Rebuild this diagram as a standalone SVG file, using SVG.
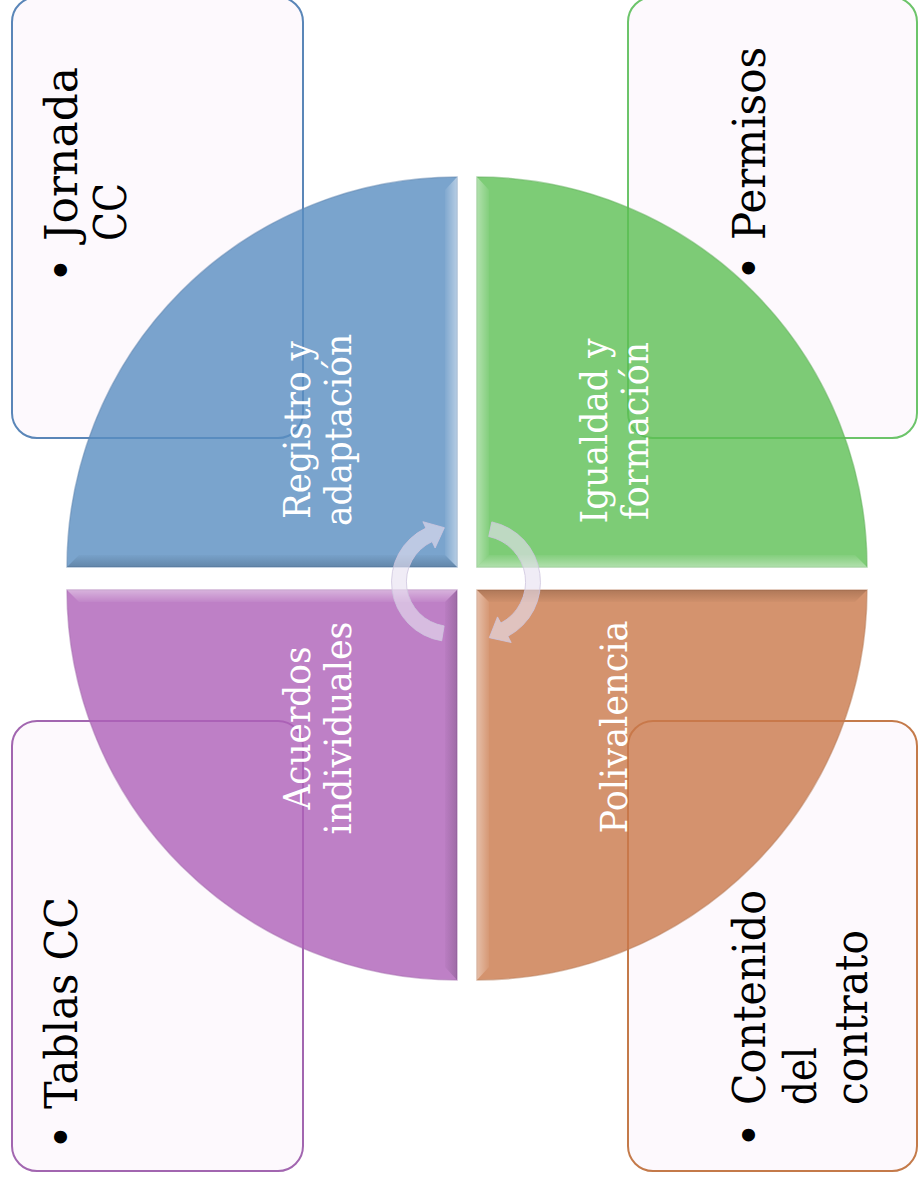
<svg xmlns="http://www.w3.org/2000/svg" width="919" height="1186" viewBox="0 0 919 1186">
<style>
  .box { fill: #FDF9FD; stroke-width: 2; }
  .big { font-family: "DejaVu Serif", "Liberation Serif", serif; font-size: 44px; fill: #000000; }
  .bul { font-family: "DejaVu Serif", "Liberation Serif", serif; font-size: 44px; fill: #000000; text-anchor: middle; }
  .lbl { font-family: "DejaVu Serif", "Liberation Serif", serif; font-size: 38px; fill: #FFFFFF; text-anchor: middle; }
  .quad { fill-opacity: 0.8; stroke-width: 1.5; stroke-opacity: 0.5; }
  .arrow { fill: #E6E0F1; fill-opacity: 0.62; stroke: #CEC6DE; stroke-width: 1; stroke-opacity: 0.8; }
</style>
<defs>
  <linearGradient id="wR" x1="1" y1="0" x2="0" y2="0"><stop offset="0" stop-color="#FFFFFF" stop-opacity="0.45"/><stop offset="1" stop-color="#FFFFFF" stop-opacity="0.05"/></linearGradient>
  <linearGradient id="wL" x1="0" y1="0" x2="1" y2="0"><stop offset="0" stop-color="#FFFFFF" stop-opacity="0.4"/><stop offset="1" stop-color="#FFFFFF" stop-opacity="0.05"/></linearGradient>
  <linearGradient id="wB" x1="0" y1="1" x2="0" y2="0"><stop offset="0" stop-color="#FFFFFF" stop-opacity="0.4"/><stop offset="1" stop-color="#FFFFFF" stop-opacity="0.05"/></linearGradient>
  <linearGradient id="wT" x1="0" y1="0" x2="0" y2="1"><stop offset="0" stop-color="#FFFFFF" stop-opacity="0.4"/><stop offset="1" stop-color="#FFFFFF" stop-opacity="0.05"/></linearGradient>
  <linearGradient id="kB" x1="0" y1="1" x2="0" y2="0"><stop offset="0" stop-color="#203040" stop-opacity="0.25"/><stop offset="1" stop-color="#203040" stop-opacity="0.03"/></linearGradient>
  <linearGradient id="kR" x1="1" y1="0" x2="0" y2="0"><stop offset="0" stop-color="#302038" stop-opacity="0.22"/><stop offset="1" stop-color="#302038" stop-opacity="0.03"/></linearGradient>
  <linearGradient id="kT" x1="0" y1="0" x2="0" y2="1"><stop offset="0" stop-color="#402818" stop-opacity="0.25"/><stop offset="1" stop-color="#402818" stop-opacity="0.03"/></linearGradient>
</defs>
<rect x="0" y="0" width="919" height="1186" fill="#FFFFFF"/>

<!-- text boxes -->
<g id="box-jornada">
  <rect class="box" x="12" y="-3" width="291" height="441" rx="25" stroke="#5A86B8"/>
  <text class="bul" x="77" y="270" transform="rotate(-90 77 270)">•</text>
  <text class="big" x="77" y="241" transform="rotate(-90 77 241)" textLength="174" lengthAdjust="spacingAndGlyphs">Jornada</text>
  <text class="big" x="126" y="241" transform="rotate(-90 126 241)" textLength="58" lengthAdjust="spacingAndGlyphs">CC</text>
</g>
<g id="box-permisos">
  <rect class="box" x="628" y="-3" width="289" height="441" rx="25" stroke="#6CC46A"/>
  <text class="bul" x="765" y="268" transform="rotate(-90 765 268)">•</text>
  <text class="big" x="765" y="240" transform="rotate(-90 765 240)" textLength="193" lengthAdjust="spacingAndGlyphs">Permisos</text>
</g>
<g id="box-tablas">
  <rect class="box" x="12" y="721" width="291" height="450" rx="25" stroke="#A266B0"/>
  <text class="bul" x="77" y="1137" transform="rotate(-90 77 1137)">•</text>
  <text class="big" x="77" y="1109" transform="rotate(-90 77 1109)" textLength="212" lengthAdjust="spacingAndGlyphs">Tablas CC</text>
</g>
<g id="box-contenido">
  <rect class="box" x="628" y="721" width="289" height="450" rx="25" stroke="#C47A4A"/>
  <text class="bul" x="765" y="1135" transform="rotate(-90 765 1135)">•</text>
  <text class="big" x="765" y="1105" transform="rotate(-90 765 1105)" textLength="215" lengthAdjust="spacingAndGlyphs">Contenido</text>
  <text class="big" x="816" y="1105" transform="rotate(-90 816 1105)" textLength="58" lengthAdjust="spacingAndGlyphs">del</text>
  <text class="big" x="867" y="1105" transform="rotate(-90 867 1105)" textLength="175" lengthAdjust="spacingAndGlyphs">contrato</text>
</g>

<!-- quadrants -->
<g id="quad-registro">
  <path class="quad" d="M457,567 L67,567 A390,390 0 0 1 457,177 Z" fill="#598DC1" stroke="#5F85B0"/>
  <polygon points="457,177 457,567 445,555 445,190" fill="url(#wR)"/>
  <polygon points="67,567 457,567 445,555 79,555" fill="url(#kB)"/>
  <text class="lbl" x="310" y="430" transform="rotate(-90 310 430)" textLength="178" lengthAdjust="spacingAndGlyphs">Registro y</text>
  <text class="lbl" x="351" y="430" transform="rotate(-90 351 430)" textLength="192" lengthAdjust="spacingAndGlyphs">adaptación</text>
</g>
<g id="quad-igualdad">
  <path class="quad" d="M477,567 L477,177 A390,390 0 0 1 867,567 Z" fill="#5CBF54" stroke="#62B05C"/>
  <polygon points="477,177 477,567 489,555 489,190" fill="url(#wL)"/>
  <polygon points="477,567 867,567 855,555 489,555" fill="url(#wB)"/>
  <text class="lbl" x="607" y="431" transform="rotate(-90 607 431)" textLength="185" lengthAdjust="spacingAndGlyphs">Igualdad y</text>
  <text class="lbl" x="648" y="431" transform="rotate(-90 648 431)" textLength="178" lengthAdjust="spacingAndGlyphs">formación</text>
</g>
<g id="quad-acuerdos">
  <path class="quad" d="M457,590 L457,980 A390,390 0 0 1 67,590 Z" fill="#AE60B8" stroke="#A46AAE"/>
  <polygon points="67,590 457,590 445,602 79,602" fill="url(#wT)"/>
  <polygon points="457,590 457,980 445,967 445,602" fill="url(#kR)"/>
  <text class="lbl" x="310" y="728" transform="rotate(-90 310 728)" textLength="163" lengthAdjust="spacingAndGlyphs">Acuerdos</text>
  <text class="lbl" x="351" y="728" transform="rotate(-90 351 728)" textLength="213" lengthAdjust="spacingAndGlyphs">individuales</text>
</g>
<g id="quad-polivalencia">
  <path class="quad" d="M477,590 L867,590 A390,390 0 0 1 477,980 Z" fill="#C9784A" stroke="#B87C58"/>
  <polygon points="477,590 867,590 855,602 489,602" fill="url(#kT)"/>
  <polygon points="477,590 477,980 489,967 489,602" fill="url(#wL)"/>
  <text class="lbl" x="627" y="727" transform="rotate(-90 627 727)" textLength="213" lengthAdjust="spacingAndGlyphs">Polivalencia</text>
</g>

<!-- connectors: circular arrows -->
<g id="connectors">
  <path class="arrow" d="M444.1,625.9 L441.7,640.8 A59.5,59.5 0 0 1 425.9,528.1 L422.9,521.7 L444.4,527.7 L435.1,548.0 L432.1,541.6 A44.5,44.5 0 0 0 444.1,625.9 Z"/>
  <path class="arrow" d="M488.7,536.5 L491.8,521.9 A61.5,61.5 0 0 1 507.9,636.3 L511.2,642.5 L489.3,637.7 L497.5,616.9 L500.8,623.1 A46.5,46.5 0 0 0 488.7,536.5 Z"/>
</g>
</svg>
